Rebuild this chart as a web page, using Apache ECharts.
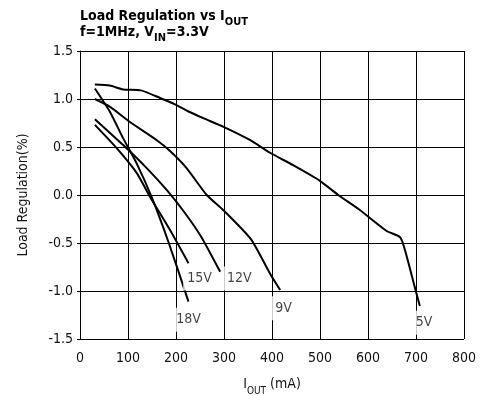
<!DOCTYPE html>
<html>
<head>
<meta charset="utf-8">
<script src="https://cdn.jsdelivr.net/npm/echarts@6/dist/echarts.min.js"></script>
<style>
  html, body { margin: 0; padding: 0; background: #fff; }
  #chart { width: 484px; height: 396px; }
</style>
</head>
<body>
<div id="chart"></div>
<script>
  // curve data (I_OUT in mA, load regulation in %)
  const x5V = [31, 62, 90, 127, 167, 198, 226, 257, 299, 354, 396, 444, 499, 538, 583, 639, 667, 677, 698, 708];
  const y5V = [1.15, 1.14, 1.10, 1.09, 1.01, 0.945, 0.87, 0.80, 0.71, 0.573, 0.44, 0.31, 0.15, 0.0, -0.156, -0.375, -0.44, -0.573, -0.97, -1.156];
  const x9V = [31, 62, 104, 160, 187, 222, 264, 299, 356, 396, 417];
  const y9V = [1.0, 0.92, 0.76, 0.57, 0.46, 0.28, 0.0, -0.16, -0.46, -0.82, -0.99];
  const x12V = [31, 90, 139, 181, 219, 253, 292];
  const y12V = [0.79, 0.52, 0.28, 0.05, -0.19, -0.44, -0.80];
  const x15V = [31, 76, 118, 146, 187, 226];
  const y15V = [0.73, 0.49, 0.23, -0.02, -0.36, -0.71];
  const x18V = [31, 62, 90, 118, 150, 185, 226];
  const y18V = [1.11, 0.87, 0.59, 0.33, -0.03, -0.50, -1.11];

  // curve labels
  const labelText = ['18V', '15V', '12V', '9V', '5V'];
  const labelX = [226, 249, 332, 424, 717];
  const labelY = [-1.30, -0.87, -0.87, -1.18, -1.33];

  const font = "'DejaVu Sans Condensed', 'Liberation Sans', sans-serif";

  function pairs(xs, ys) {
    return xs.map((x, i) => [x, ys[i]]);
  }

  function curve(name, xs, ys) {
    return {
      name: name,
      type: 'line',
      data: pairs(xs, ys),
      smooth: 0.2,
      symbol: 'none',
      lineStyle: { color: '#000', width: 2 },
      z: 3
    };
  }

  let chart = echarts.init(document.getElementById('chart'));

  chart.setOption({
    animation: false,
    title: {
      left: 80,
      top: 7,
      padding: 0,
      text: '{b|Load Regulation vs I}{s|OUT}\n{b|f=1MHz, V}{s|IN}{b|=3.3V}',
      textStyle: {
        rich: {
          b: { fontFamily: font, fontSize: 14, fontWeight: 'bold', color: '#000', lineHeight: 16, verticalAlign: 'bottom' },
          s: { fontFamily: font, fontSize: 11, fontWeight: 'bold', color: '#000', lineHeight: 16, verticalAlign: 'bottom', padding: [0, 0, -5, 0] }
        }
      }
    },
    grid: { left: 80, right: 20, top: 51, bottom: 57, outerBoundsMode: 'none' },
    xAxis: {
      type: 'value',
      min: 0,
      max: 800,
      interval: 100,
      name: '{a|I}{s|OUT}{a| (mA)}',
      nameLocation: 'middle',
      nameGap: 36,
      nameTextStyle: {
        rich: {
          a: { fontFamily: font, fontSize: 14, color: '#111', verticalAlign: 'bottom', lineHeight: 16 },
          s: { fontFamily: font, fontSize: 10, color: '#111', verticalAlign: 'bottom', lineHeight: 16, padding: [0, 0, -5, 0] }
        }
      },
      axisLine: { lineStyle: { color: '#000', width: 1 } },
      axisTick: { show: false },
      axisLabel: { fontFamily: font, fontSize: 14, color: '#111', margin: 12 },
      splitLine: { lineStyle: { color: '#000', width: 1 } }
    },
    yAxis: {
      type: 'value',
      min: -1.5,
      max: 1.5,
      interval: 0.5,
      name: 'Load Regulation(%)',
      nameLocation: 'middle',
      nameGap: 50,
      nameTextStyle: { fontFamily: font, fontSize: 14, color: '#111' },
      axisLine: { show: true, lineStyle: { color: '#000', width: 1 } },
      axisTick: { show: true, length: 3, lineStyle: { color: '#000' } },
      axisLabel: {
        fontFamily: font, fontSize: 14, color: '#111', margin: 7,
        formatter: v => v.toFixed(1)
      },
      splitLine: { lineStyle: { color: '#000', width: 1 } }
    },
    series: [
      curve('5V', x5V, y5V),
      curve('9V', x9V, y9V),
      curve('12V', x12V, y12V),
      curve('15V', x15V, y15V),
      curve('18V', x18V, y18V),
      {
        type: 'scatter',
        symbolSize: 0,
        z: 4,
        data: labelX.map((x, i) => ({ value: [x, labelY[i]], name: labelText[i] })),
        label: {
          show: true,
          position: 'inside',
          formatter: p => p.name,
          fontFamily: font,
          fontSize: 14,
          color: '#111',
          backgroundColor: '#fff',
          padding: [5, 4]
        }
      }
    ]
  });
</script>
</body>
</html>
